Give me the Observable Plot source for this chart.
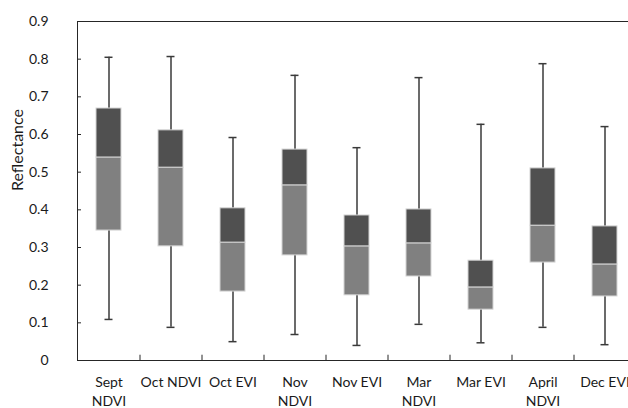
<!DOCTYPE html>
<html>
<head>
<meta charset="utf-8">
<script src="https://cdn.jsdelivr.net/npm/d3@7"></script>
<script src="https://cdn.jsdelivr.net/npm/@observablehq/plot@0.6"></script>
<style>
  html, body { margin: 0; padding: 0; background: #fff; }
  #chart svg { display: block; }
</style>
</head>
<body>
<div id="chart"></div>
<script>
const categories = ["Sept\nNDVI", "Oct NDVI", "Oct EVI", "Nov\nNDVI", "Nov EVI", "Mar\nNDVI", "Mar EVI", "April\nNDVI", "Dec EVI"];
const minValues    = [0.109, 0.088, 0.050, 0.069, 0.040, 0.096, 0.047, 0.088, 0.042];
const q1Values     = [0.345, 0.303, 0.183, 0.279, 0.173, 0.223, 0.135, 0.260, 0.170];
const medianValues = [0.539, 0.512, 0.313, 0.465, 0.303, 0.311, 0.194, 0.358, 0.255];
const q3Values     = [0.669, 0.611, 0.404, 0.560, 0.385, 0.401, 0.265, 0.510, 0.356];
const maxValues    = [0.805, 0.807, 0.592, 0.757, 0.565, 0.751, 0.627, 0.788, 0.621];
const yTicks = [0, 0.1, 0.2, 0.3, 0.4, 0.5, 0.6, 0.7, 0.8, 0.9];
const yTickLabels = ["0", "0.1", "0.2", "0.3", "0.4", "0.5", "0.6", "0.7", "0.8", "0.9"];
const yLabel = "Reflectance";

const data = categories.map((c, i) => ({
  cat: c, min: minValues[i], q1: q1Values[i], median: medianValues[i], q3: q3Values[i], max: maxValues[i]
}));

const axisColor = "#262626";
const chart = Plot.plot({
  width: 628,
  height: 408,
  marginLeft: 77,
  marginRight: -7,
  marginTop: 21,
  marginBottom: 48,
  style: { fontFamily: "Lato, sans-serif", fontSize: "14px", color: "#1a1a1a", background: "#fff" },
  x: { domain: categories, paddingInner: 0.6, paddingOuter: 0.3, label: null },
  y: { domain: [0, 0.9], label: null },
  marks: [
    Plot.frame({ stroke: axisColor, strokeWidth: 1 }),
    Plot.axisY({ ticks: yTicks, tickFormat: (d, i) => yTickLabels[i], tickSize: -4, tickPadding: 33, stroke: axisColor, label: null }),
    Plot.axisX({ tickSize: 0, tickPadding: 13, label: null, lineHeight: 1.36 }),
    Plot.ruleX(categories.slice(0, -1), { x: d => d, dx: 31, y1: 0, y2: 0.014, stroke: axisColor }),
    Plot.ruleX(data, { x: "cat", y1: "min", y2: "max", stroke: "#3a3a3a", strokeWidth: 1.5 }),
    Plot.tickY(data, { x: "cat", y: "max", stroke: "#3a3a3a", strokeWidth: 1.5, inset: 8.5 }),
    Plot.tickY(data, { x: "cat", y: "min", stroke: "#3a3a3a", strokeWidth: 1.5, inset: 8.5 }),
    Plot.barY(data, { x: "cat", y1: "q1", y2: "median", fill: "#808080", stroke: "#d4d4d4", strokeWidth: 1 }),
    Plot.barY(data, { x: "cat", y1: "median", y2: "q3", fill: "#505050", stroke: "#d4d4d4", strokeWidth: 1 }),
    Plot.text([yLabel], { frameAnchor: "left", rotate: -90, dx: -60, fontSize: 16, fill: "#1a1a1a" })
  ]
});
document.getElementById("chart").appendChild(chart);
</script>
</body>
</html>
